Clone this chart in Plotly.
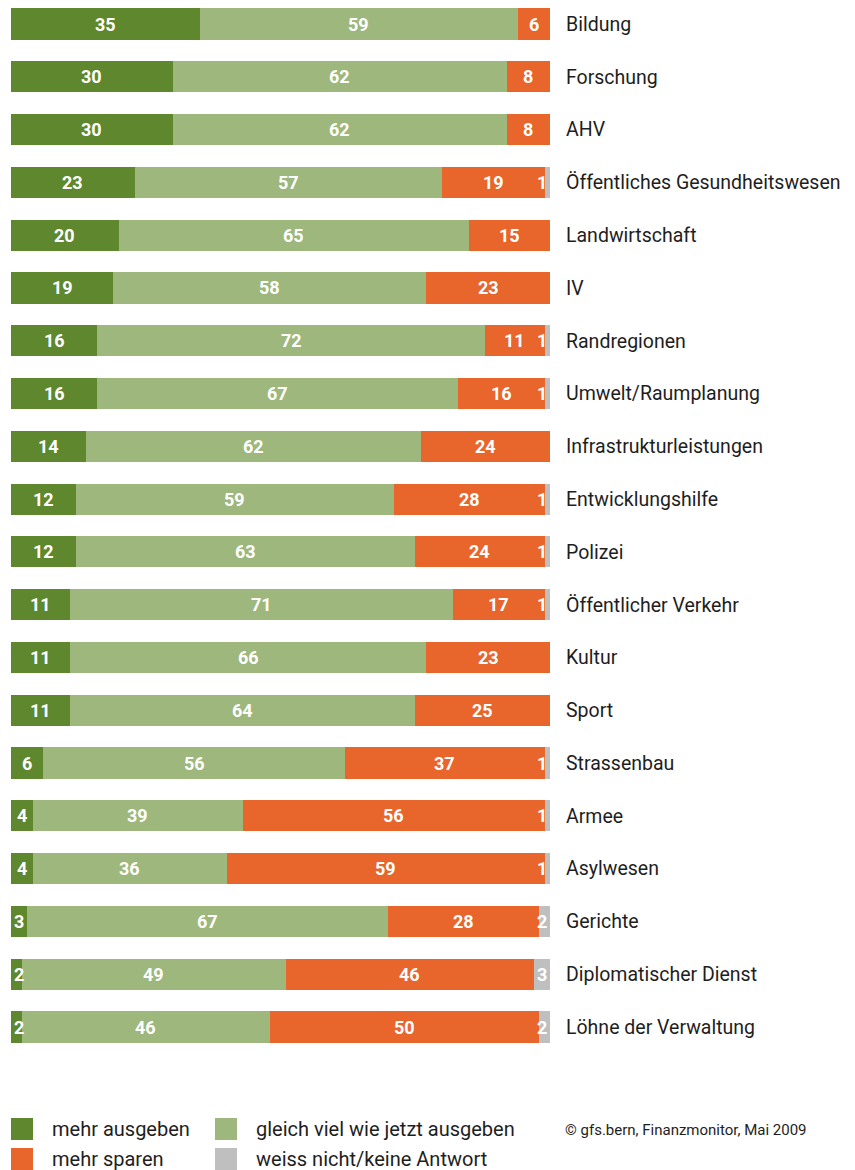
import plotly.graph_objects as go

# Survey: "Where should the federal government spend more / save more?" (in %)
categories = [
    "Bildung", "Forschung", "AHV", "Öffentliches Gesundheitswesen",
    "Landwirtschaft", "IV", "Randregionen", "Umwelt/Raumplanung",
    "Infrastrukturleistungen", "Entwicklungshilfe", "Polizei",
    "Öffentlicher Verkehr", "Kultur", "Sport", "Strassenbau", "Armee",
    "Asylwesen", "Gerichte", "Diplomatischer Dienst", "Löhne der Verwaltung",
]
mehr_ausgeben = [35, 30, 30, 23, 20, 19, 16, 16, 14, 12, 12, 11, 11, 11, 6, 4, 4, 3, 2, 2]
gleich_viel   = [59, 62, 62, 57, 65, 58, 72, 67, 62, 59, 63, 71, 66, 64, 56, 39, 36, 67, 49, 46]
mehr_sparen   = [6, 8, 8, 19, 15, 23, 11, 16, 24, 28, 24, 17, 23, 25, 37, 56, 59, 28, 46, 50]
weiss_nicht   = [0, 0, 0, 1, 0, 0, 1, 1, 0, 1, 1, 1, 0, 0, 1, 1, 1, 2, 3, 2]

series = [
    ("mehr ausgeben", mehr_ausgeben, "#5f872d"),
    ("gleich viel wie jetzt ausgeben", gleich_viel, "#9db77c"),
    ("mehr sparen", mehr_sparen, "#e8652c"),
    ("weiss nicht/keine Antwort", weiss_nicht, "#bfbfbf"),
]
source = "© gfs.bern, Finanzmonitor, Mai 2009"

W, H = 855, 1170
M_L, M_R, M_T, M_B = 11, 305, 0, 110
PLOT_H = H - M_T - M_B

FONT = "Roboto"
TEXT_COL = "#1e1e1e"

fig = go.Figure()
ypos = list(range(len(categories)))
for name, vals, col in series:
    fig.add_trace(go.Bar(
        y=ypos, x=vals, orientation="h", name=name,
        marker=dict(color=col, line=dict(width=0)),
        width=0.59, hoverinfo="x+name", showlegend=False,
    ))

# value labels, centred in each segment (kept clear of the bar ends)
annotations = []
for i in ypos:
    start = 0
    for name, vals, col in series:
        v = vals[i]
        if v > 0:
            mid = min(max(start + v / 2, 1.5), 98.5)
            annotations.append(dict(
                x=mid, y=i, xref="x", yref="y", text=str(v), showarrow=False,
                font=dict(family=FONT, size=18, color="white", weight="bold"),
                xanchor="center", yanchor="middle",
            ))
        start += v


def py(px_y):
    """convert a pixel row of the page into paper y"""
    return (H - M_B - px_y) / PLOT_H


def px(px_x):
    return (px_x - M_L) / (W - M_L - M_R)


# hand-built 2x2 legend
legend_cells = [
    (11, 1129, 50, 0), (215, 1129, 254, 1),
    (11, 1159, 50, 2), (215, 1159, 254, 3),
]
shapes = []
for sx, cy, tx, k in legend_cells:
    name, _, col = series[k]
    shapes.append(dict(
        type="rect", xref="paper", yref="paper",
        x0=px(sx), x1=px(sx + 22), y0=py(cy - 11), y1=py(cy + 11),
        fillcolor=col, line=dict(width=0),
    ))
    annotations.append(dict(
        x=px(tx), y=py(cy), xref="paper", yref="paper", text=name,
        showarrow=False, xanchor="left", yanchor="middle",
        font=dict(family=FONT, size=20, color=TEXT_COL),
    ))
annotations.append(dict(
    x=px(563), y=py(1130), xref="paper", yref="paper", text=source,
    showarrow=False, xanchor="left", yanchor="middle",
    font=dict(family=FONT, size=15, color=TEXT_COL),
))

row_px = 52.79
top_val = -24 / row_px
bot_val = (PLOT_H - 24) / row_px

fig.update_layout(
    width=W, height=H, barmode="stack",
    margin=dict(l=M_L, r=M_R, t=M_T, b=M_B),
    paper_bgcolor="white", plot_bgcolor="white",
    font=dict(family=FONT, size=18, color=TEXT_COL),
    xaxis=dict(range=[0, 100], visible=False, fixedrange=True),
    yaxis=dict(
        range=[bot_val, top_val], side="right",
        tickmode="array", tickvals=ypos, ticktext=categories,
        showgrid=False, zeroline=False, showline=False, ticks="",
        ticklabelstandoff=15, fixedrange=True,
        tickfont=dict(family=FONT, size=19.5, color=TEXT_COL),
    ),
    annotations=annotations, shapes=shapes,
)

fig.write_html("out.html")
